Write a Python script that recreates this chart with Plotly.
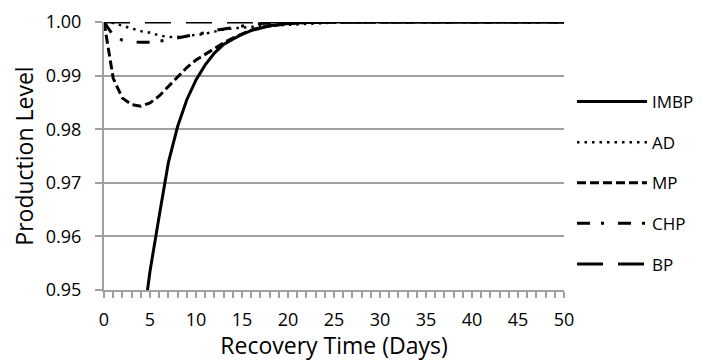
import plotly.graph_objects as go

days = [0, 1, 2, 3, 4, 5, 6, 7, 8, 9, 10, 11, 12, 13, 14, 15, 16, 17, 18, 19, 20, 22, 25, 30, 40, 50]

imbp = [None, None, None, None, 0.9405, 0.9535, 0.9638, 0.9738, 0.9805, 0.9855, 0.9892, 0.9920,
        0.9942, 0.9958, 0.9968, 0.9977, 0.9984, 0.9989, 0.9993, 0.9995, 0.9997, 0.9999, 1.0, 1.0, 1.0, 1.0]
ad = [1.0, 0.9998, 0.9993, 0.9988, 0.9983, 0.9980, 0.9975, 0.9972, 0.9972, 0.9974, 0.9976, 0.9978,
      0.9982, 0.9986, 0.9988, 0.9990, 0.9991, 0.9992, 0.9993, 0.9994, 0.9995, 0.9997, 0.9999, 1.0, 1.0, 1.0]
mp = [1.0, 0.9895, 0.9858, 0.9846, 0.9843, 0.9849, 0.9862, 0.9880, 0.9898, 0.9915, 0.9929, 0.9940,
      0.9951, 0.9961, 0.9970, 0.9978, 0.9985, 0.9990, 0.9993, 0.9995, 0.9997, 0.9999, 1.0, 1.0, 1.0, 1.0]
chp = [1.0, 0.9975, 0.9966, 0.9963, 0.9962, 0.9962, 0.9964, 0.9967, 0.9971, 0.9974, 0.9977, 0.9980,
       0.9984, 0.9987, 0.9990, 0.9993, 0.9995, 0.9997, 0.9998, 0.9999, 1.0, 1.0, 1.0, 1.0, 1.0, 1.0]
bp = [1.0] * len(days)

series_names = ["IMBP", "AD", "MP", "CHP", "BP"]
series_values = [imbp, ad, mp, chp, bp]
dashes = ["solid", "2.5px,5px", "9px,4px", "13px,11px,3px,14px", "26px,15px"]
widths = [3, 2.5, 3, 3, 3]

y_ticks = [0.95, 0.96, 0.97, 0.98, 0.99, 1.00]
x_ticks = [0, 5, 10, 15, 20, 25, 30, 35, 40, 45, 50]

FONT = "Open Sans"
GRID = "#a0a0a0"

# the page body has an 8px default margin, so the figure is sized to fit the window
W, H = 699, 353
ML, MT, MR, MB = 96, 14, 143, 71
PW = W - ML - MR
PH = H - MT - MB

fig = go.Figure()
for i, (name, vals) in enumerate(zip(series_names, series_values)):
    fig.add_trace(go.Scatter(
        x=days, y=vals, name=name, mode="lines", legendgroup=name,
        line=dict(color="black", width=widths[i], dash=dashes[i]),
        connectgaps=False,
    ))

fig.update_layout(
    width=W, height=H,
    margin=dict(l=ML, r=MR, t=MT, b=MB, autoexpand=False),
    paper_bgcolor="white", plot_bgcolor="white",
    font=dict(family=FONT, size=17, color="black"),
    showlegend=True,
    legend=dict(x=(572 - 96 - 8) / PW, y=1 - (84 - 22) / PH,
                xanchor="left", yanchor="top",
                font=dict(family=FONT, size=17, color="black"),
                itemwidth=70, tracegroupgap=15.5, bgcolor="rgba(0,0,0,0)"),
    xaxis=dict(range=[0, 50], tickvals=x_ticks, ticks="outside", ticklen=0,
               showgrid=False, showline=True, linecolor=GRID, linewidth=2,
               zeroline=False, tickfont=dict(size=18), ticklabelstandoff=12,
               minor=dict(dtick=1, ticks="outside", ticklen=6, tickcolor=GRID, tickwidth=1.5),
               title=dict(text="Recovery Time (Days)", font=dict(size=23), standoff=17)),
    yaxis=dict(range=[0.95, 1.0], tickvals=y_ticks, tickformat=".2f",
               ticks="outside", ticklen=7, tickcolor=GRID, tickwidth=1.5,
               showgrid=True, gridcolor=GRID, gridwidth=1.5,
               showline=True, linecolor=GRID, linewidth=2, zeroline=False,
               tickfont=dict(size=18), ticklabelstandoff=10,
               title=dict(text="Production Level", font=dict(size=23), standoff=9)),
)

fig.write_html("out.html")
